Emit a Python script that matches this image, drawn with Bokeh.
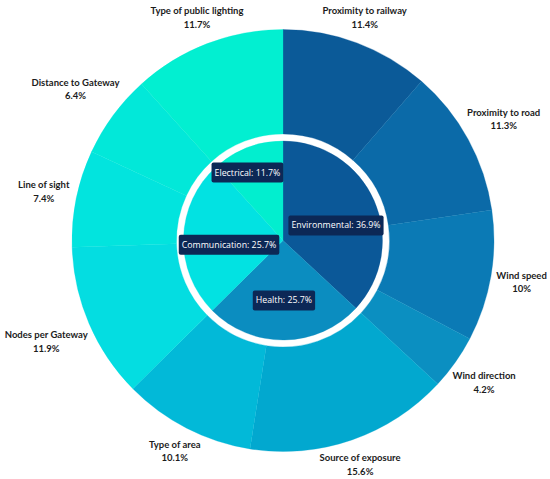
import math
from bokeh.plotting import figure
from bokeh.models import Range1d, Label, ColumnDataSource
from bokeh.core.properties import value
from bokeh.embed import file_html
from bokeh.resources import INLINE

# ---- data ----
inner_names = ["Environmental", "Health", "Communication", "Electrical"]
inner_values = [36.9, 25.7, 25.7, 11.7]
inner_colors = ["#0b5898", "#0b8dc0", "#02e2e2", "#02eecf"]

outer_names = ["Proximity to railway", "Proximity to road", "Wind speed", "Wind direction",
               "Source of exposure", "Type of area",
               "Nodes per Gateway", "Line of sight", "Distance to Gateway",
               "Type of public lighting"]
outer_values = [11.4, 11.3, 10, 4.2, 15.6, 10.1, 11.9, 7.4, 6.4, 11.7]
outer_colors = ["#0b5a98", "#0b6aa8", "#0b7ab5", "#0b8fc1", "#02a8cf", "#02b9d8",
                "#04dde1", "#02e4de", "#02e8d9", "#02efd1"]

# label nudges in screen pixels (x right, y down)
outer_nudge = [(-2, 1), (11, -7), (3, 1), (6, 4), (-1, -2), (1, -2), (-17, 7), (-5, -1), (-15, -10), (0, 0)]
inner_nudge = [(-2, 9), (0, 0), (6, 6), (-14, -12)]

W, H = 550, 479
cx, cy = 282.5, 239.0
R_IN = 99.5
R_RING_IN, R_RING_OUT = 106.5, 211.0
R_LABEL = 239.0
R_INNER_LABEL = 60.0

p = figure(width=W, height=H, x_range=Range1d(0, W), y_range=Range1d(0, H),
           output_backend="svg", toolbar_location=None, min_border=0,
           x_axis_location=None, y_axis_location=None)
p.grid.visible = False
p.outline_line_color = None
p.background_fill_color = "white"
p.border_fill_color = "white"


def spans(vals):
    tot = sum(vals)
    out = []
    c = 0.0
    for v in vals:
        out.append((c / tot, (c + v) / tot))
        c += v
    return out


def bang(frac):
    return math.pi / 2 - 2 * math.pi * frac


isp = spans(inner_values)
src_in = ColumnDataSource(dict(
    start=[bang(b) for a, b in isp], end=[bang(a) for a, b in isp], color=inner_colors))
p.wedge(x=cx, y=cy, radius=R_IN, start_angle="start", end_angle="end", direction="anticlock",
        fill_color="color", line_color="color", line_width=0.3, source=src_in)

osp = spans(outer_values)
src_out = ColumnDataSource(dict(
    start=[bang(b) for a, b in osp], end=[bang(a) for a, b in osp], color=outer_colors))
p.annular_wedge(x=cx, y=cy, inner_radius=R_RING_IN, outer_radius=R_RING_OUT,
                start_angle="start", end_angle="end", direction="anticlock",
                fill_color="color", line_color="color", line_width=0.3, source=src_out)

# outer labels
nx, ny, px_, py_, pct = [], [], [], [], []
for (a, b), (dx, dy), v in zip(osp, outer_nudge, outer_values):
    th = 2 * math.pi * (a + b) / 2
    x = cx + R_LABEL * math.sin(th) + dx
    y = cy + R_LABEL * math.cos(th) - dy
    nx.append(x); ny.append(y + 6.8)
    px_.append(x); py_.append(y - 6.8)
    pct.append(f"{v:g}%")

p.text(x=nx, y=ny, text=outer_names, text_font=value("Lato"), text_font_style="bold",
       text_font_size="9.5px", text_color="#1c1c1c", text_align="center", text_baseline="middle")
p.text(x=px_, y=py_, text=pct, text_font=value("Lato"), text_font_style="bold",
       text_font_size="9.5px", text_color="#1c1c1c", text_align="center", text_baseline="middle")

# inner labels
for (a, b), (dx, dy), name, v in zip(isp, inner_nudge, inner_names, inner_values):
    th = 2 * math.pi * (a + b) / 2
    x = cx + R_INNER_LABEL * math.sin(th) + dx
    y = cy + R_INNER_LABEL * math.cos(th) - dy
    p.add_layout(Label(x=x, y=y, text=f"{name}: {v:g}%", text_font="Open Sans",
                       text_font_size="8.8px", text_color="white", text_align="center",
                       text_baseline="middle", background_fill_color="#0c2856",
                       background_fill_alpha=1.0, padding=(3, 4), border_radius=2))

open("out.html", "w").write(file_html(p, INLINE))
